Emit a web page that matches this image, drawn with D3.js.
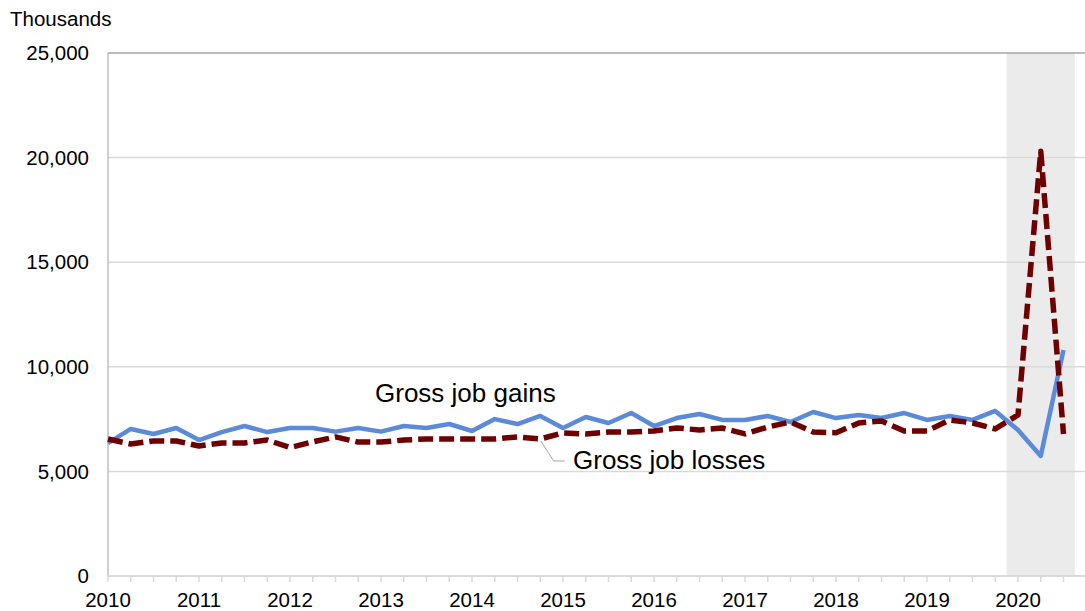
<!DOCTYPE html>
<html>
<head>
<meta charset="utf-8">
<script src="https://cdn.jsdelivr.net/npm/d3@7"></script>
<style>
  html, body { margin: 0; padding: 0; background: #ffffff; }
  svg { display: block; font-family: "Liberation Sans", Arial, sans-serif; }
</style>
</head>
<body>
<svg id="chart" width="1085" height="611"></svg>
<script>
// ---- Data (thousands), quarterly 2010Q1 – 2020Q3 ----
const quarters = [
  "2010Q1","2010Q2","2010Q3","2010Q4","2011Q1","2011Q2","2011Q3","2011Q4",
  "2012Q1","2012Q2","2012Q3","2012Q4","2013Q1","2013Q2","2013Q3","2013Q4",
  "2014Q1","2014Q2","2014Q3","2014Q4","2015Q1","2015Q2","2015Q3","2015Q4",
  "2016Q1","2016Q2","2016Q3","2016Q4","2017Q1","2017Q2","2017Q3","2017Q4",
  "2018Q1","2018Q2","2018Q3","2018Q4","2019Q1","2019Q2","2019Q3","2019Q4",
  "2020Q1","2020Q2","2020Q3"
];
const grossJobGains = [
  6350, 7030, 6790, 7075, 6500, 6880, 7170, 6880,
  7075, 7075, 6900, 7075, 6900, 7170, 7075, 7265,
  6930, 7500, 7265, 7650, 7075, 7600, 7315, 7790,
  7170, 7550, 7745, 7460, 7460, 7650, 7360, 7840,
  7550, 7700, 7550, 7790, 7460, 7650, 7460, 7890,
  6980, 5740, 10800
];
const grossJobLosses = [
  6550, 6310, 6455, 6455, 6215, 6360, 6360, 6500,
  6140, 6410, 6650, 6400, 6400, 6500, 6550, 6550,
  6550, 6550, 6650, 6550, 6840, 6790, 6880, 6880,
  6930, 7075, 6980, 7075, 6790, 7120, 7360, 6880,
  6850, 7315, 7410, 6930, 6930, 7460, 7315, 7030,
  7700, 20300, 6790
];
const yTicks = [0, 5000, 10000, 15000, 20000, 25000];
const yearLabels = ["2010","2011","2012","2013","2014","2015","2016","2017","2018","2019","2020"];
const recessionStart = "2020Q1";
const recessionEnd = "2020Q3";
const seriesLabels = ["Gross job gains", "Gross job losses"];
const unitLabel = "Thousands";

(function () {
// ---- Layout ----
const svg = d3.select("#chart");
const plotL = 108, plotT = 53, plotB = 576, plotR = 1085;
const step = 22.75;

const x = d3.scaleLinear()
  .domain([0, quarters.length - 1])
  .range([plotL, plotL + step * (quarters.length - 1)]);
const y = d3.scaleLinear().domain([0, 25000]).range([plotB, plotT]);

// recession shading (half a quarter on each side)
const rs = quarters.indexOf(recessionStart), re = quarters.indexOf(recessionEnd);
svg.append("rect")
  .attr("x", x(rs - 0.5))
  .attr("y", plotT)
  .attr("width", x(re + 0.5) - x(rs - 0.5))
  .attr("height", plotB - plotT)
  .attr("fill", "#ebebeb");

// gridlines
svg.append("g").selectAll("line")
  .data(yTicks.filter(d => d > 0 && d < 25000))
  .join("line")
  .attr("x1", plotL).attr("x2", plotR)
  .attr("y1", d => y(d)).attr("y2", d => y(d))
  .attr("stroke", "#d9d9d9").attr("stroke-width", 1.5);

// top border
svg.append("line")
  .attr("x1", plotL).attr("x2", plotR)
  .attr("y1", y(25000)).attr("y2", y(25000))
  .attr("stroke", "#a6a6a6").attr("stroke-width", 1.5);
// left border
svg.append("line")
  .attr("x1", plotL).attr("x2", plotL)
  .attr("y1", plotT).attr("y2", plotB)
  .attr("stroke", "#bfbfbf").attr("stroke-width", 1.5);
// bottom axis line
svg.append("line")
  .attr("x1", plotL).attr("x2", plotR)
  .attr("y1", plotB).attr("y2", plotB)
  .attr("stroke", "#d9d9d9").attr("stroke-width", 2);

// x tick marks at every quarter
svg.append("g").selectAll("line")
  .data(d3.range(quarters.length))
  .join("line")
  .attr("x1", d => x(d)).attr("x2", d => x(d))
  .attr("y1", plotB).attr("y2", plotB + 6)
  .attr("stroke", "#d9d9d9").attr("stroke-width", 1.5);

// y tick labels
const fmt = d3.format(",");
svg.append("g").selectAll("text")
  .data(yTicks)
  .join("text")
  .attr("x", 89)
  .attr("y", d => y(d))
  .attr("dy", "0.35em")
  .attr("text-anchor", "end")
  .attr("font-size", 20.5)
  .attr("fill", "#000")
  .text(d => fmt(d));

// x year labels
svg.append("g").selectAll("text")
  .data(yearLabels)
  .join("text")
  .attr("x", d => x(quarters.indexOf(d + "Q1")))
  .attr("y", 607)
  .attr("text-anchor", "middle")
  .attr("font-size", 20.5)
  .attr("fill", "#000")
  .text(d => d);

// unit label
svg.append("text")
  .attr("x", 10).attr("y", 26)
  .attr("font-size", 20.5)
  .attr("fill", "#000")
  .text(unitLabel);

// lines
const line = d3.line().x((d, i) => x(i)).y(d => y(d));
svg.append("path")
  .datum(grossJobGains)
  .attr("d", line)
  .attr("fill", "none")
  .attr("stroke", "#5b8ad8")
  .attr("stroke-width", 4.5)
  .attr("stroke-linejoin", "round");

svg.append("path")
  .datum(grossJobLosses)
  .attr("d", line)
  .attr("fill", "none")
  .attr("stroke", "#6e0000")
  .attr("stroke-width", 5.5)
  .attr("stroke-dasharray", "15,6")
  .attr("stroke-linejoin", "round");

// series labels
svg.append("text")
  .attr("x", 375).attr("y", 402)
  .attr("font-size", 26)
  .attr("fill", "#000")
  .text(seriesLabels[0]);

// leader line for losses label
const li = quarters.indexOf("2014Q4");
const lx = x(li) + 0.5, ly = y(grossJobLosses[li]) + 2;
svg.append("polyline")
  .attr("points", `${lx},${ly} ${lx + 13},${ly + 20} ${lx + 24},${ly + 20}`)
  .attr("fill", "none")
  .attr("stroke", "#a6a6a6")
  .attr("stroke-width", 1);

svg.append("text")
  .attr("x", 573).attr("y", 469)
  .attr("font-size", 26)
  .attr("fill", "#000")
  .text(seriesLabels[1]);
})();
</script>
</body>
</html>
